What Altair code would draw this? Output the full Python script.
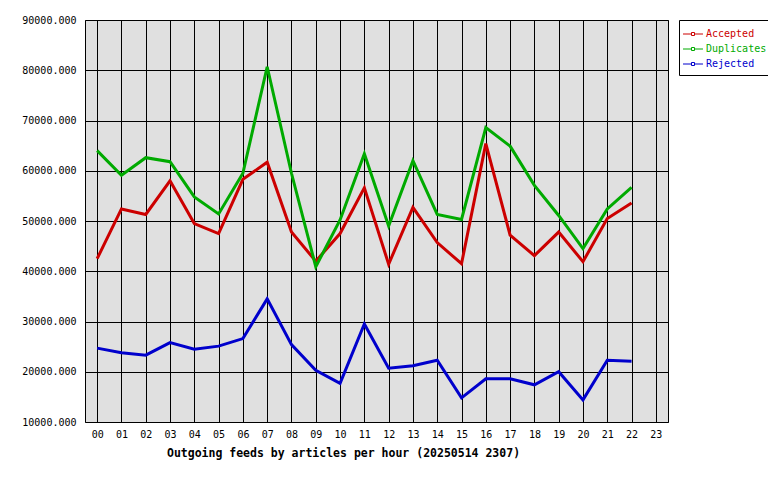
import altair as alt
import pandas as pd

hours_all = [f"{h:02d}" for h in range(24)]
hours = hours_all[:23]
series_names = ["Accepted", "Duplicates", "Rejected"]
series_colors = ["#cc0000", "#00aa00", "#0000cc"]

accepted = [42500, 52400, 51300, 58000, 49500, 47500, 58300, 61700, 47800, 42000, 47500, 56600,
            41400, 52700, 45700, 41500, 65400, 47200, 43100, 47800, 41900, 50500, 53600]
duplicates = [64000, 59100, 62600, 61800, 54800, 51400, 59500, 80700, 59500, 40900, 50200, 63400,
              49000, 62000, 51300, 50300, 68600, 64900, 57100, 51100, 44500, 52400, 56700]
rejected = [24700, 23800, 23300, 25800, 24500, 25100, 26600, 34500, 25400, 20300, 17700, 29500,
            20700, 21200, 22300, 14800, 18600, 18600, 17400, 20000, 14400, 22300, 22100]

rows = []
for name, vals in zip(series_names, [accepted, duplicates, rejected]):
    for h, v in zip(hours, vals):
        rows.append({"hour": h, "series": name, "value": v})
df = pd.DataFrame(rows)

FONT = "DejaVu Sans Mono"
label_color_expr = ("datum.label == 'Accepted' ? '#cc0000' : "
                    "(datum.label == 'Duplicates' ? '#00aa00' : '#0000cc')")

symbol_path = "M-1.33,0H-0.2M0.2,0H1.33M-0.2,-0.2H0.2V0.2H-0.2Z"

chart = alt.Chart(df).mark_line(strokeWidth=3, strokeJoin="miter").encode(
    x=alt.X("hour:O",
            scale=alt.Scale(type="point", domain=hours_all, padding=0.5),
            axis=alt.Axis(title="Outgoing feeds by articles per hour (20250514 2307)",
                          labelAngle=0, ticks=False, domain=False, grid=True,
                          gridColor="black", gridWidth=1, gridOpacity=1,
                          labelFont=FONT, labelFontSize=10, labelColor="black", labelPadding=7,
                          titleFont=FONT, titleFontSize=11.5, titleFontWeight="bold",
                          titleColor="black", titleX=258, titleY=34,
                          titleAlign="center", titleBaseline="alphabetic")),
    y=alt.Y("value:Q",
            scale=alt.Scale(domain=[10000, 90000], nice=False, zero=False),
            axis=alt.Axis(title=None, values=list(range(10000, 90001, 10000)), format=".3f",
                          ticks=False, domain=False, grid=True, gridColor="black",
                          gridWidth=1, gridOpacity=1, labelFont=FONT, labelFontSize=10,
                          labelColor="black", labelPadding=9)),
    color=alt.Color("series:N",
                    scale=alt.Scale(domain=series_names, range=series_colors),
                    legend=alt.Legend(title=None, orient="none", legendX=594, legendY=0,
                                      strokeColor="black", fillColor="white", padding=6,
                                      rowPadding=2,
                                      symbolType=symbol_path,
                                      symbolSize=225, symbolStrokeWidth=1,
                                      labelFont=FONT, labelFontSize=10, labelOffset=5,
                                      labelColor=alt.ExprRef(label_color_expr))),
).properties(
    width=583, height=402,
    autosize=alt.AutoSizeParams(type="none"),
    padding={"left": 77, "top": 12, "right": 100, "bottom": 40},
    background="white",
).configure_view(
    fill="#e0e0e0", stroke="black", strokeWidth=1
)

chart.save("out.html", embed_options={"renderer": "svg", "actions": False})
